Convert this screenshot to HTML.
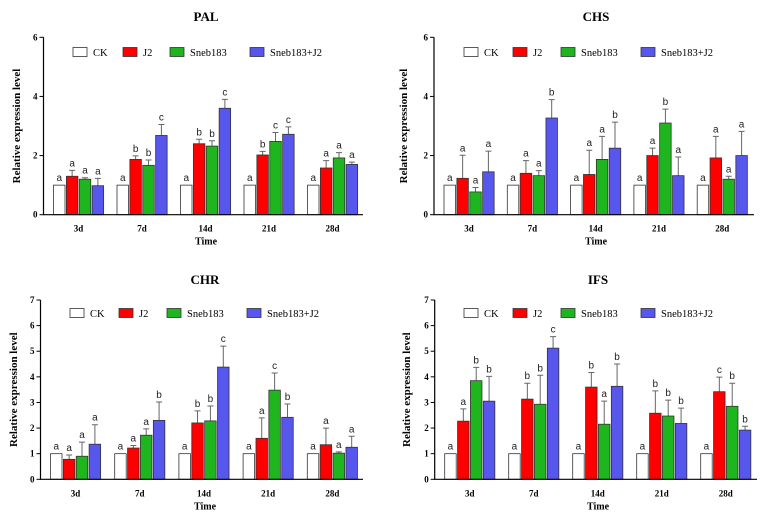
<!DOCTYPE html>
<html><head><meta charset="utf-8"><style>
body{margin:0;background:#fff;}
svg{display:block;}
text{font-family:"Liberation Serif",serif;}
.lt{font-family:"Liberation Sans",sans-serif;font-size:10px;fill:#222;}
</style></head><body>
<svg id="c" width="767" height="520" viewBox="0 0 767 520"></svg>
<script>
const categories=["3d","7d","14d","21d","28d"];
const seriesNames=["CK","J2","Sneb183","Sneb183+J2"];
const palVals=[[1,1,1,1,1],[1.3,1.87,2.4,2.02,1.58],[1.2,1.67,2.32,2.48,1.92],[0.98,2.68,3.6,2.72,1.7]];
const palErr=[[0,0,0,0,0],[0.2,0.12,0.15,0.12,0.25],[0.05,0.18,0.18,0.3,0.18],[0.25,0.37,0.3,0.25,0.08]];
const palLet=[["a","a","a","a","a"],["a","b","b","b","a"],["a","b","b","c","a"],["a","c","c","c","a"]];
const chsVals=[[1,1,1,1,1],[1.23,1.4,1.36,2.0,1.92],[0.77,1.32,1.87,3.1,1.2],[1.45,3.27,2.25,1.32,2.0]];
const chsErr=[[0,0,0,0,0],[0.78,0.43,0.82,0.25,0.73],[0.15,0.17,0.78,0.47,0.1],[0.7,0.62,0.88,0.63,0.82]];
const chsLet=[["a","a","a","a","a"],["a","a","a","a","a"],["a","a","a","b","a"],["a","b","b","a","a"]];
const chrVals=[[1,1,1,1,1],[0.78,1.22,2.2,1.6,1.35],[0.9,1.72,2.28,3.48,1.02],[1.37,2.3,4.38,2.42,1.25]];
const chrErr=[[0,0,0,0,0],[0.17,0.1,0.47,0.8,0.65],[0.55,0.25,0.58,0.67,0.05],[0.76,0.72,0.82,0.52,0.43]];
const chrLet=[["a","a","a","a","a"],["a","a","b","a","a"],["a","a","b","c","a"],["a","b","c","b","a"]];
const ifsVals=[[1,1,1,1,1],[2.27,3.13,3.6,2.58,3.42],[3.85,2.93,2.15,2.47,2.85],[3.05,5.12,3.63,2.18,1.92]];
const ifsErr=[[0,0,0,0,0],[0.48,0.62,0.57,0.87,0.57],[0.52,1.13,0.9,0.62,0.9],[0.97,0.45,0.87,0.6,0.15]];
const ifsLet=[["a","a","a","a","a"],["a","b","b","b","c"],["b","b","a","b","b"],["b","c","b","b","b"]];
const ticks6=[0,2,4,6];
const ticks7=[0,1,2,3,4,5,6,7];

const colors=["#ffffff","#ff0000","#1fb51f","#5757ee"];
const NS="http://www.w3.org/2000/svg";
const svg=document.getElementById("c");
function mk(tag,attrs,parent,txt){const e=document.createElementNS(NS,tag);for(const k in attrs)e.setAttribute(k,attrs[k]);if(txt!==undefined)e.textContent=txt;(parent||svg).appendChild(e);return e;}

function panel(cfg){
  const g=mk("g",{});
  
  
  const yMax=cfg.ticks[cfg.ticks.length-1];
  const ys=v=>cfg.y0-(cfg.y0-cfg.yTop)*v/yMax;
  const xs=(gi,si)=>cfg.x0+gi*cfg.step+si*cfg.bw*1.12;
  const t=mk("text",{x:cfg.tx,y:cfg.ty,"text-anchor":"middle","font-weight":"bold","font-size":"13"},g,cfg.title);
  
  
  for(let s=0;s<4;s++){for(let i=0;i<categories.length;i++){
    const v=cfg.vals[s][i],e=cfg.err[s][i];
    const x=xs(i,s);
    if(e>0){const l=mk("path",{d:`M${x+cfg.bw/2} ${ys(v)}V${ys(v+e)}M${x+cfg.bw/2-3} ${ys(v+e)}H${x+cfg.bw/2+3}`,stroke:"#666","stroke-width":"1",fill:"none"},g);
      
      }
    const r=mk("rect",{x:x,y:ys(v),width:cfg.bw,height:ys(0)-ys(v),fill:colors[s],stroke:"#333","stroke-width":"0.8"},g);
    
    
    const lt=mk("text",{x:x+cfg.bw/2,y:ys(v+e)-4,"text-anchor":"middle",class:"lt"},g,cfg.lets[s][i]);
    
    
  }}
  const ax=mk("path",{d:`M${cfg.x0-10} ${cfg.yTop}V${cfg.y0}H${cfg.xEnd}`,stroke:"#000","stroke-width":"1.2",fill:"none"},g);
  
  
  cfg.ticks.forEach(tv=>{
    mk("line",{x1:cfg.x0-14,x2:cfg.x0-10,y1:ys(tv),y2:ys(tv),stroke:"#000"},g);
    const tl=mk("text",{x:cfg.x0-16,y:ys(tv)+3,"text-anchor":"end","font-size":"9","font-weight":"bold"},g,String(tv));
    
    
  });
  categories.forEach((c,i)=>{
    const cx=xs(i,0)+(xs(i,3)+cfg.bw-xs(i,0))/2;
    const xl=mk("text",{x:cx,y:cfg.y0+17,"text-anchor":"middle","font-size":"9","font-weight":"bold"},g,c);
    
    
  });
  const xt=mk("text",{x:cfg.tx,y:cfg.y0+30,"text-anchor":"middle","font-size":"10","font-weight":"bold"},g,"Time");
  
  
  const ym=(cfg.y0+cfg.yTop)/2;
  const yt=mk("text",{x:cfg.ylx,y:ym,"text-anchor":"middle","font-size":"11","font-weight":"bold",transform:`rotate(-90 ${cfg.ylx} ${ym})`},g,"Relative  expression level");
  
  
  seriesNames.forEach((n,s)=>{
    const lg=mk("g",{},g);
    
    
    mk("rect",{x:cfg.lx[s],y:cfg.ly-4.5,width:14,height:9,fill:colors[s],stroke:"#333","stroke-width":"0.8"},lg);
    mk("text",{x:cfg.lx[s]+20,y:cfg.ly+4,"font-size":"10.5"},lg,n);
  });
}
panel({name:"pal",title:"PAL",vals:palVals,err:palErr,lets:palLet,ticks:ticks6,x0:53.5,step:63.5,bw:11.5,y0:214.7,yTop:37.3,xEnd:363,tx:206,ty:21,ylx:20,lx:[73,123,170,250],ly:52});
panel({name:"chs",title:"CHS",vals:chsVals,err:chsErr,lets:chsLet,ticks:ticks6,x0:444,step:63.3,bw:11.5,y0:214.7,yTop:37.3,xEnd:754,tx:596,ty:21,ylx:407,lx:[464,513,561,641],ly:52});
panel({name:"chr",title:"CHR",vals:chrVals,err:chrErr,lets:chrLet,ticks:ticks7,x0:50.5,step:64.2,bw:11.5,y0:479.3,yTop:300,xEnd:363,tx:205,ty:284,ylx:17,lx:[70,119,167,247],ly:313});
panel({name:"ifs",title:"IFS",vals:ifsVals,err:ifsErr,lets:ifsLet,ticks:ticks7,x0:444.7,step:64,bw:11.5,y0:479.3,yTop:300,xEnd:757,tx:598,ty:284,ylx:410,lx:[464,513,561,641],ly:313});
</script>
</body></html>
